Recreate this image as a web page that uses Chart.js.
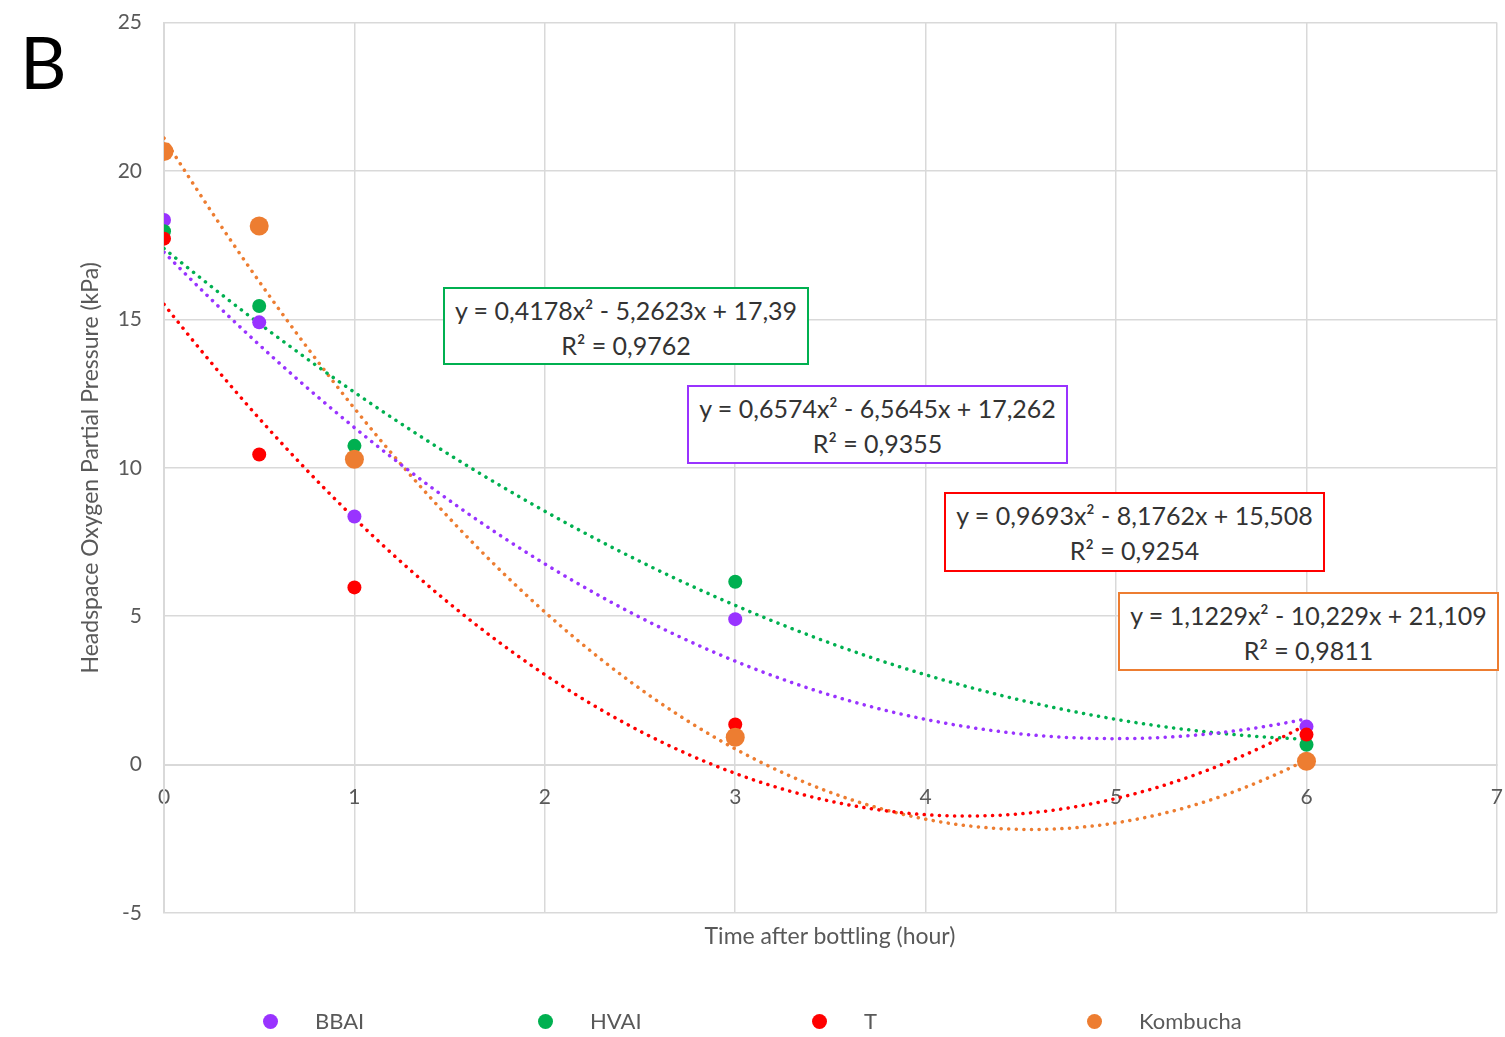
<!DOCTYPE html>
<html>
<head>
<meta charset="utf-8">
<script src="https://cdn.jsdelivr.net/npm/chart.js@4.4.1/dist/chart.umd.min.js"></script>
<style>
  html, body { margin: 0; padding: 0; background: #fff; overflow: hidden; }
  #wrap { position: relative; width: 1505px; height: 1037px; overflow: hidden; font-family: Lato, "Open Sans", sans-serif; }
  canvas { position: absolute; left: 0; top: -12px; }
  .eq { position: absolute; box-sizing: border-box; border: 2px solid; background: #fff; text-align: center;
        font-size: 25px; line-height: 35px; color: #333; padding-top: 4px; white-space: nowrap; }
  .lbl { position: absolute; color: #595959; white-space: nowrap; }
  .leg { position: absolute; font-size: 22px; color: #595959; top: 1007px; }
  .dot { position: absolute; width: 15px; height: 15px; border-radius: 50%; top: 1014px; }
</style>
</head>
<body>
<div id="wrap">
  <canvas id="c" width="1523" height="1049"></canvas>
</div>
<script>
// ---- data ----
const seriesNames = ['BBAI', 'HVAI', 'T', 'Kombucha'];
const timeHours = [0, 0.5, 1, 3, 6];
const bbaiValues = [18.35, 14.9, 8.36, 4.9, 1.28];
const hvaiValues = [17.97, 15.45, 10.74, 6.16, 0.67];
const tValues = [17.72, 10.45, 5.97, 1.35, 1.01];
const kombuchaValues = [20.66, 18.15, 10.29, 0.92, 0.11];
// trendline coefficients shown in the chart (a, b, c for y = a x^2 + b x + c)
const bbaiTrend = [0.6574, -6.5645, 17.262];
const hvaiTrend = [0.4178, -5.2623, 17.39];
const tTrend = [0.9693, -8.1762, 15.508];
const kombuchaTrend = [1.1229, -10.229, 21.109];
const trendLabels = [
  ['y = 0,6574x² - 6,5645x + 17,262', 'R² = 0,9355'],
  ['y = 0,4178x² - 5,2623x + 17,39', 'R² = 0,9762'],
  ['y = 0,9693x² - 8,1762x + 15,508', 'R² = 0,9254'],
  ['y = 1,1229x² - 10,229x + 21,109', 'R² = 0,9811']
];
const xTicks = [0, 1, 2, 3, 4, 5, 6, 7];
const yTicks = [-5, 0, 5, 10, 15, 20, 25];
const xTitle = 'Time after bottling (hour)';
const yTitle = 'Headspace Oxygen Partial Pressure (kPa)';

// ---- styling ----
const colors = ['#9933FF', '#00B050', '#FF0000', '#ED7D31'];
const radii = [7, 7, 7, 9.5];
const valueSets = [bbaiValues, hvaiValues, tValues, kombuchaValues];
const trends = [bbaiTrend, hvaiTrend, tTrend, kombuchaTrend];

function trendPoints(coef) {
  const pts = [];
  for (let i = 0; i <= 120; i++) {
    const x = i * 0.05;
    pts.push({ x: x, y: coef[0] * x * x + coef[1] * x + coef[2] });
  }
  return pts;
}

const datasets = [];
seriesNames.forEach((n, i) => {
  datasets.push({
    label: n,
    data: timeHours.map((x, k) => ({ x: x, y: valueSets[i][k] })),
    backgroundColor: colors[i],
    borderColor: colors[i],
    pointRadius: radii[i],
    pointBorderWidth: 0,
    showLine: false,
    order: 4 - i
  });
});
seriesNames.forEach((n, i) => {
  datasets.push({
    label: n + ' trend',
    data: trendPoints(trends[i]),
    type: 'line',
    borderColor: colors[i],
    borderWidth: 3.5,
    borderDash: [0.1, 7.5],
    borderCapStyle: 'round',
    pointRadius: 0,
    fill: false,
    tension: 0,
    order: 10 + i
  });
});

const gridColor = '#d9d9d9';
new Chart(document.getElementById('c'), {
  type: 'scatter',
  data: { datasets: datasets },
  options: {
    responsive: false,
    animation: false,
    events: [],
    layout: { padding: { left: 0, top: 11, right: 8, bottom: 124 } },
    plugins: { legend: { display: false }, tooltip: { enabled: false } },
    scales: {
      x: {
        type: 'linear',
        position: { y: 0 },
        min: 0, max: 7,
        afterBuildTicks: s => { s.ticks = xTicks.map(v => ({ value: v })); },
        grid: { color: gridColor, lineWidth: 1.5, drawTicks: false },
        border: { color: gridColor, width: 2 },
        ticks: { color: '#595959', font: { family: 'Lato', size: 21 }, padding: 20, maxRotation: 0 }
      },
      y: {
        min: -5, max: 25,
        afterBuildTicks: s => { s.ticks = yTicks.map(v => ({ value: v })); },
        afterFit: s => { s.width = 164; },
        grid: { color: gridColor, lineWidth: 1.5, drawTicks: false },
        border: { color: gridColor, width: 2 },
        ticks: { color: '#595959', font: { family: 'Lato', size: 21 }, padding: 22 },
        title: { display: true, text: yTitle, color: '#595959', font: { family: 'Lato', size: 23 }, padding: { top: 77, bottom: 14 } }
      }
    }
  }
});

// ---- overlays (text) ----
const wrap = document.getElementById('wrap');
function addDiv(cls, html, style) {
  const d = document.createElement('div');
  d.className = cls;
  d.innerHTML = html;
  Object.assign(d.style, style);
  wrap.appendChild(d);
  return d;
}
addDiv('lbl', 'B', { left: '20px', top: '18px', fontSize: '72px', color: '#000' });
addDiv('lbl', xTitle, { left: '830px', top: '921px', fontSize: '23px', transform: 'translateX(-50%)' });

const boxes = [
  { left: 687, top: 385, w: 381, h: 79 },
  { left: 443, top: 287, w: 366, h: 78 },
  { left: 944, top: 492, w: 381, h: 80 },
  { left: 1118, top: 592, w: 381, h: 79 }
];
boxes.forEach((b, i) => {
  addDiv('eq', trendLabels[i][0] + '<br>' + trendLabels[i][1],
    { left: b.left + 'px', top: b.top + 'px', width: b.w + 'px', height: b.h + 'px', borderColor: colors[i] });
});

const legX = [270, 545, 819, 1094];
seriesNames.forEach((n, i) => {
  addDiv('dot', '', { left: (legX[i] - 7) + 'px', background: colors[i] });
  addDiv('leg', n, { left: (legX[i] + 45) + 'px' });
});
</script>
</body>
</html>
